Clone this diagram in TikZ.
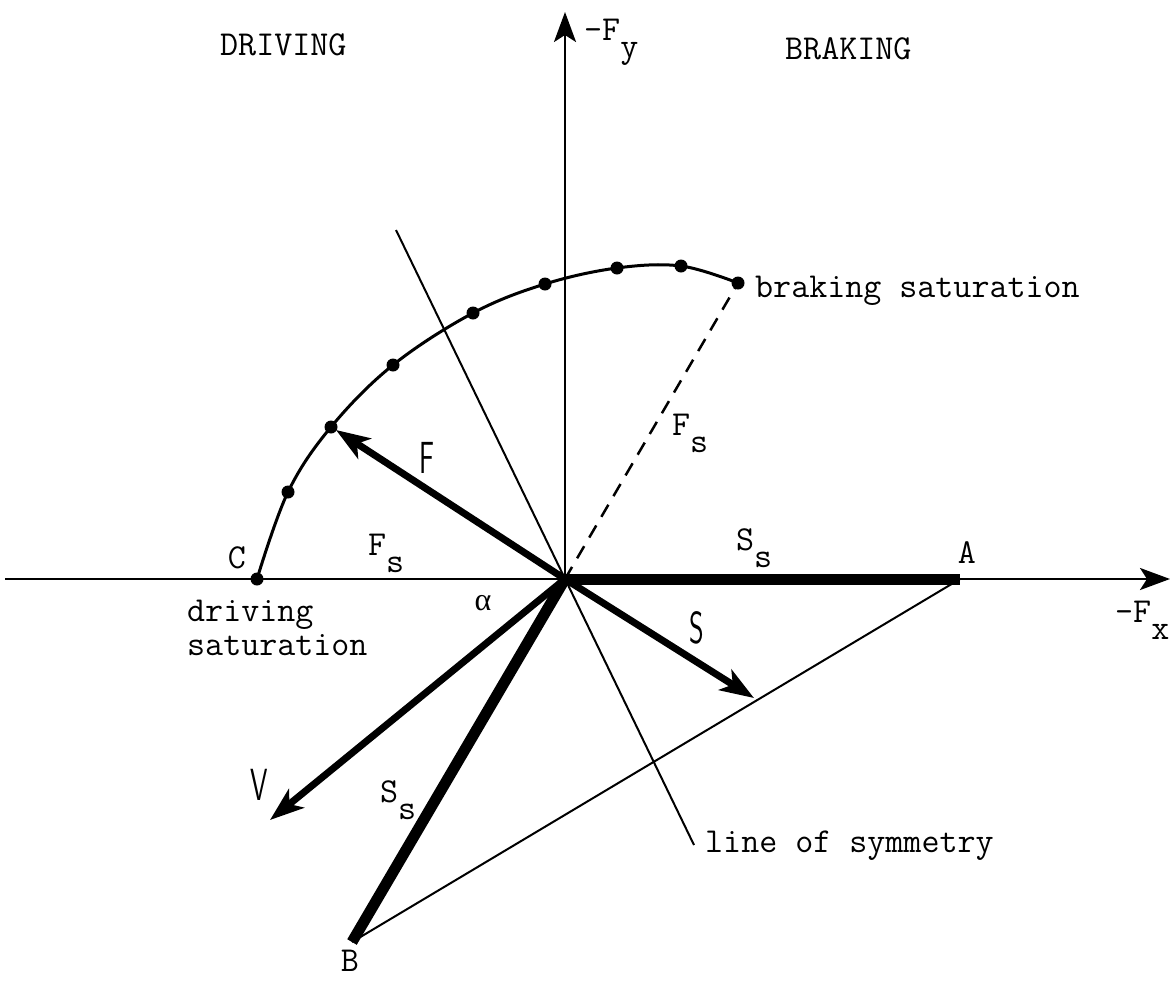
\documentclass[tikz,border=0pt]{standalone}
\usepackage{fontspec}
\usepackage{graphicx}
\usetikzlibrary{arrows.meta}
\newfontfamily\grkfont{Liberation Serif}
\newcommand\lowsub[2]{#1\raisebox{-17pt}{#2}}
\newcommand\narrow[1]{\scalebox{0.62}[1]{#1}}
\tikzset{
  lbl/.style={font=\ttfamily\fontsize{35}{40}\selectfont, inner sep=0pt},
  grk/.style={font=\grkfont\fontsize{32}{36}\selectfont, inner sep=0pt},
  big/.style={font=\sffamily\fontsize{45}{50}\selectfont, inner sep=0pt},
  axis/.style={line width=2.7pt, -{Stealth[length=30pt,width=22pt,inset=7pt]}},
  vec/.style={line width=7pt, -{Stealth[length=34pt,width=24pt,inset=9pt]}},
  thinline/.style={line width=2pt},
  heavy/.style={line width=11pt},
  arcline/.style={line width=3pt},
  dashline/.style={line width=2.5pt, dash pattern=on 14pt off 10pt},
  dotmark/.style={circle, fill, inner sep=0pt, minimum size=13pt}
}
\begin{document}
\begin{tikzpicture}[x=1pt,y=-1pt]
\useasboundingbox (0,0) rectangle (1170,980);
% key points
\coordinate (O) at (565,579);
\coordinate (A) at (960,579);
\coordinate (B) at (352,942);
\coordinate (xl) at (5,579);
\coordinate (xr) at (1170,579);
\coordinate (yt) at (565,12);
\coordinate (Vt) at (270,820);
\coordinate (St) at (754,698);
\coordinate (Ft) at (336,430);
\coordinate (L1) at (396,230);
\coordinate (L2) at (694,845);
\coordinate (p1) at (257,579);
\coordinate (p2) at (288,492);
\coordinate (p3) at (331,427);
\coordinate (p4) at (393,365);
\coordinate (p5) at (473,313);
\coordinate (p6) at (545,284);
\coordinate (p7) at (617,268);
\coordinate (p8) at (681,266);
\coordinate (p9) at (738,283);
% axes
\draw[axis] (xl) -- (xr);
\draw[axis] (O) -- (yt);
% thin lines
\draw[thinline] (L1) -- (L2);
\draw[thinline] (A) -- (B);
\draw[dashline] (O) -- (p9);
% heavy sides
\draw[heavy, line cap=butt] (O) -- (A);
\draw[heavy, line join=round] (O) -- (B);
% arc and dots
\draw[arcline] plot[smooth, tension=0.6] coordinates {(p1) (p2) (p3) (p4) (p5) (p6) (p7) (p8) (p9)};
\foreach \p in {p1,p2,p3,p4,p5,p6,p7,p8,p9} \node[dotmark] at (\p) {};
% vectors
\draw[vec] (O) -- (Ft);
\draw[vec] (O) -- (St);
\draw[vec] (O) -- (Vt);
% labels
\node[lbl, anchor=base west] (drv) at (220,55) {DRIVING};
\node[lbl, anchor=base west] (brk) at (785,59) {BRAKING};
\node[lbl, anchor=base west] (fy) at (584,40) {\lowsub{-F}{y}};
\node[lbl, anchor=base west] (fx) at (1115,622) {\lowsub{-F}{x}};
\node[lbl, anchor=base west] (bsat) at (755,297) {braking saturation};
\node[lbl, anchor=base west] (dsat) at (187,621) {driving};
\node[lbl, anchor=base west] (dsat2) at (187,655) {saturation};
\node[lbl, anchor=base west] (los) at (705,852) {line of symmetry};
\node[lbl, anchor=base west] (fs1) at (672,435) {\lowsub{F}{s}};
\node[lbl, anchor=base west] (fs2) at (368,555) {\lowsub{F}{s}};
\node[lbl, anchor=base west] (ss1) at (736,550) {\lowsub{S}{s}};
\node[lbl, anchor=base west] (ss2) at (380,802) {\lowsub{S}{s}};
\node[lbl] (lC) at (237,558) {C};
\node[lbl] (lA) at (967,553) {A};
\node[lbl] (lB) at (350,961) {B};
\node[grk] (alpha) at (483,603) {α};
\node[big] (lF) at (427,458) {\narrow{F}};
\node[big] (lS) at (697,628) {\narrow{S}};
\node[big] (lV) at (259,785) {\narrow{V}};
\end{tikzpicture}
\end{document}
